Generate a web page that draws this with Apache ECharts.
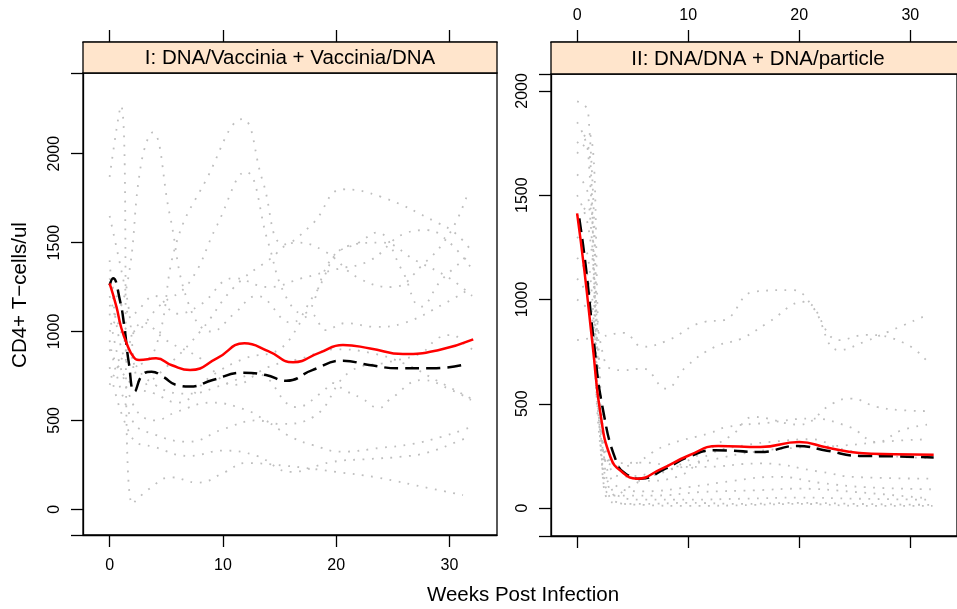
<!DOCTYPE html>
<html>
<head>
<meta charset="utf-8">
<script src="https://cdn.jsdelivr.net/npm/echarts@6/dist/echarts.min.js"></script>
<style>html,body{margin:0;padding:0;background:#fff}#c{width:957px;height:609px}</style>
</head>
<body>
<div id="c"></div>
<script>
// ---- Panel titles and tick labels ----
const panelTitles = ['I: DNA/Vaccinia + Vaccinia/DNA', 'II: DNA/DNA + DNA/particle'];
const xTicks = [0, 10, 20, 30];
const yTicks = [0, 500, 1000, 1500, 2000];
const xTitle = 'Weeks Post Infection';
const yTitle = 'CD4+ T\u2212cells/ul';

// ---- Panel I: individual subjects [week, CD4] ----
const I_s1  = [[0,1870],[1,2270],[2,30],[3.6,120],[5.4,180],[7.8,150],[10.2,210],[12,260],[15.5,245],[20,210],[23.5,180],[28.5,115],[31.2,80]];
const I_s2  = [[0,1000],[1.5,1250],[2.8,1950],[3.8,2120],[5.3,1660],[7,1150],[9,1000],[11,1100],[13,1200],[16,1050],[18,1200],[21,1480],[24,1500],[27,1400],[30,1300],[32,1200]];
const I_s3  = [[0,1400],[2,800],[4,900],[5.9,1500],[8.5,1850],[11.7,2195],[13.5,1850],[15.4,1490],[17.9,1605],[20.6,1800],[24,1757],[29,1610],[30.5,1554],[32,1450]];
const I_s4  = [[0,1150],[2,1000],[4.5,1150],[7,1273],[9.5,1600],[12,1898],[14,1500],[15.4,1217],[17,1100],[19.7,1420],[22,1500],[23.6,1557],[25.8,1346],[27.5,1140],[29.3,1290],[31.8,1430]];
const I_s5  = [[0,1650],[1.5,1200],[3,700],[5,800],[8,1000],[11,1250],[14,1400],[16.5,1500],[19,1450],[22,1300],[25,1250],[27.6,1373],[30,1550],[31.6,1773]];
const I_s6  = [[0,900],[2,700],[4,650],[6,600],[9,750],[12,850],[15,900],[17.9,1093],[19.1,1008],[20.8,1047],[23.5,1026],[26,1048],[29.5,1155],[31.8,1240]];
const I_s7  = [[0,1200],[2,850],[4,700],[7,650],[10,700],[13,760],[16.5,575],[18.8,660],[19.7,710],[20.7,671],[22.2,626],[23.8,570],[24.7,615],[27.6,727],[30.3,667],[31.9,615]];
const I_s8  = [[0,1100],[2,600],[4,500],[6,550],[9,600],[12,560],[15,480],[18,520],[21.2,773],[24.7,829],[27.5,879],[29,963],[30.3,980],[31.2,935],[32,900]];
const I_s9  = [[0,950],[2,500],[4,420],[7,380],[10,450],[13,500],[16.2,401],[17.9,362],[20.5,324],[24,346],[26.7,367],[29.3,408],[31,442],[31.9,463]];
const I_s10 = [[0,800],[2,400],[4,350],[7,300],[10,330],[13,300],[16,210],[19.6,266],[23,283],[25.8,296],[28,318],[30.9,386],[31.8,412]];
const I_s11 = [[0,700],[1.5,900],[3,1050],[5,950],[8,850],[11,700],[14,800],[17,850],[20,900],[23,880],[26,820],[29,720],[32,620]];
const I_s12 = [[0,1300],[2,1100],[4,1200],[6,1100],[8,1150],[11,1300],[14,1250],[17,1300],[20,1350],[23,1400],[26,1550],[28,1570],[30,1500],[32,1350]];
const I_subjects = [I_s1,I_s2,I_s3,I_s4,I_s5,I_s6,I_s7,I_s8,I_s9,I_s10,I_s11,I_s12];

// ---- Panel I: summary curves ----
const I_red   = [[0,1271],[0.6,1140],[1.0,1027],[1.5,934],[2.1,858],[2.6,840],[4.1,849],[5.5,810],[7.1,783],[9.5,850],[11.9,934],[14,890],[16.2,827],[18.5,880],[20.6,924],[23,905],[25.9,873],[29,895],[32.1,956]];
const I_black = [[0,1260],[0.3,1300],[0.9,1178],[1.3,1027],[1.7,822],[2.2,662],[2.9,756],[3.7,774],[4.7,746],[5.9,699],[7.1,690],[9.1,727],[11.8,768],[13.8,755],[15.6,723],[17.9,783],[20.6,836],[22.9,812],[25.6,793],[28.5,793],[31.2,812]];

// ---- Panel II: individual subjects ----
const II_s1  = [[0,1950],[1,1900],[2.2,300],[3,30],[6,20],[10,25],[15,20],[20,25],[25,20],[32,15]];
const II_s2  = [[0,1850],[1,1700],[2.2,250],[3.2,60],[7,60],[11.2,77],[16,85],[20,93],[25,77],[31.7,46]];
const II_s3  = [[0,1700],[0.8,1750],[2,400],[3,100],[6,40],[10,40],[15,45],[20,50],[25,45],[31.7,40]];
const II_s4  = [[0,1600],[1,1500],[2.2,350],[3,214],[5.9,218],[9,200],[11.2,197],[16.5,214],[22,173],[25,149],[31.7,141]];
const II_s5  = [[0,1400],[1,1450],[2.3,300],[3.5,60],[4.7,101],[6.5,149],[8.6,190],[13.9,349],[15.9,437],[20,400],[23,501],[24.6,525],[27,485],[29,470],[31.7,465]];
const II_s6  = [[0,1300],[1,1200],[2.4,250],[4,200],[8,300],[12,360],[13.5,389],[17,408],[21,429],[24.5,389],[27,317],[29.2,373],[31.5,400]];
const II_s7  = [[0,805],[2,820],[4.2,840],[5.9,773],[8,800],[11.5,893],[13.2,901],[15.9,1037],[19.4,1045],[21.2,965],[23.6,757],[26,800],[28,845],[31.5,925]];
const II_s8  = [[0,1500],[1,1350],[2.5,700],[4.2,661],[5.9,669],[8,573],[9.8,677],[12.4,773],[14.8,813],[17.1,886],[20.4,989],[23.6,805],[26,830],[29.5,790],[31.7,693]];
const II_s9  = [[0,1200],[1,1100],[2.3,200],[3.5,30],[6,15],[10,10],[16,15],[20,20],[26,10],[32,10]];
const II_s10 = [[0,1750],[1,1800],[2.3,400],[3.3,120],[6,80],[10,100],[14,130],[18,150],[22,120],[26,100],[32,90]];
const II_s11 = [[0,1100],[1,1000],[2.3,300],[3.5,200],[6,130],[9,150],[12,260],[15,300],[18,320],[21,330],[24,280],[28,250],[31.7,240]];
const II_s12 = [[0,1000],[1.5,900],[2.5,300],[4,150],[8,180],[12,230],[16,270],[20,290],[24,300],[28,320],[31.7,330]];
const II_subjects = [II_s1,II_s2,II_s3,II_s4,II_s5,II_s6,II_s7,II_s8,II_s9,II_s10,II_s11,II_s12];

// ---- Panel II: summary curves ----
const II_red   = [[0,1413],[0.65,1141],[1.4,780],[2.1,453],[3.0,245],[4,175],[5.4,141],[7.5,185],[10.1,253],[12.7,298],[16.5,293],[20,317],[22.5,290],[25.4,264],[28.5,258],[32.1,256]];
const II_black = [[0.2,1389],[0.8,1150],[1.5,800],[2.3,480],[3.6,213],[4.5,160],[5.7,141],[8,190],[10,245],[12.4,277],[16.5,269],[19.8,298],[22.5,275],[25.4,250],[28.5,248],[32.1,242]];

// ---- layout ----
const FONT = '"Liberation Sans", Arial, Helvetica, sans-serif';
const P = [
  {left: 83,  top: 73, width: 414, height: 462, stripTop: 42, ymin: -144.6, ymax: 2454},
  {left: 551, top: 74, width: 414, height: 462, stripTop: 42, ymin: -134,   ymax: 2081}
];
const XMIN = -2.35, XMAX = 34.2;
const TICK_FS = 16;
const TITLE_FS = 20.5;

const chart = echarts.init(document.getElementById('c'), null, {renderer: 'canvas'});

function plain(v) { return String(v); }
function axisLineStyle(show) { return {show: show, onZero: false, lineStyle: {color: '#000', width: 1.3}}; }
function xAxis(gi, pos, showLabels, offset) {
  return {
    type: 'value', gridIndex: gi, position: pos, offset: offset || 0,
    min: XMIN, max: XMAX,
    axisLine: axisLineStyle(true),
    splitLine: {show: false},
    axisTick: {show: true, inside: false, length: 12, customValues: xTicks, lineStyle: {color: '#000', width: 1.3}},
    axisLabel: {show: showLabels, customValues: xTicks, formatter: plain, margin: pos === 'top' ? 18 : 23,
      color: '#000', fontSize: TICK_FS, fontFamily: FONT}
  };
}
// y axis carrying the ticks (library ticks every 500) and the data
function yAxisTicks(gi) {
  return {
    type: 'value', gridIndex: gi, position: 'left',
    min: P[gi].ymin, max: P[gi].ymax, splitNumber: 5,
    axisLine: axisLineStyle(true),
    splitLine: {show: false},
    axisTick: {show: true, length: 12, lineStyle: {color: '#000', width: 1.3}},
    axisLabel: {color: 'rgba(0,0,0,0)'}
  };
}
// twin y axis carrying the rotated tick labels
function yAxisLabels(gi) {
  return {
    type: 'value', gridIndex: gi, position: 'left',
    min: P[gi].ymin, max: P[gi].ymax,
    axisLine: axisLineStyle(false),
    splitLine: {show: false},
    axisTick: {show: false},
    axisLabel: {customValues: yTicks, formatter: plain, rotate: 90, margin: 20,
      color: '#000', fontSize: TICK_FS, fontFamily: FONT}
  };
}

const greyStyle = {color: '#bebebe', width: 1.8, type: [1.8, 7.5]};
const series = [];
function addPanel(subjects, red, black, gi) {
  const xi = gi * 2, yi = gi * 2;
  subjects.forEach(function (d) {
    series.push({type: 'line', xAxisIndex: xi, yAxisIndex: yi, data: d, smooth: 0.45,
      showSymbol: false, silent: true, lineStyle: greyStyle, z: 2});
  });
  series.push({type: 'line', xAxisIndex: xi, yAxisIndex: yi, data: black, smooth: 0.5,
    showSymbol: false, silent: true, lineStyle: {color: '#000', width: 2.5, type: [14, 7]}, z: 3});
  series.push({type: 'line', xAxisIndex: xi, yAxisIndex: yi, data: red, smooth: 0.5,
    showSymbol: false, silent: true, lineStyle: {color: '#ff0000', width: 2.5}, z: 4});
}
addPanel(I_subjects, I_red, I_black, 0);
addPanel(II_subjects, II_red, II_black, 1);

const graphics = [];
P.forEach(function (p, i) {
  graphics.push({type: 'rect', z: 1, silent: true,
    shape: {x: p.left, y: p.stripTop, width: p.width, height: p.top - p.stripTop},
    style: {fill: '#ffe5cc', stroke: '#000', lineWidth: 1.3}});
  graphics.push({type: 'text', z: 2, silent: true,
    style: {text: panelTitles[i], x: p.left + p.width / 2, y: (p.stripTop + p.top) / 2 + 1,
      align: 'center', verticalAlign: 'middle', fill: '#000', font: TITLE_FS + 'px ' + FONT}});
});
graphics.push({type: 'text', silent: true, rotation: Math.PI / 2, x: 20, y: 295,
  style: {text: yTitle, x: 0, y: 0, align: 'center', verticalAlign: 'middle', fill: '#000', font: TITLE_FS + 'px ' + FONT}});
graphics.push({type: 'text', silent: true,
  style: {text: xTitle, x: 523, y: 595, align: 'center', verticalAlign: 'middle', fill: '#000', font: TITLE_FS + 'px ' + FONT}});

chart.setOption({
  animation: false,
  backgroundColor: '#fff',
  grid: P.map(function (p) {
    return {left: p.left, top: p.top, width: p.width, height: p.height, show: true,
      borderColor: '#000', borderWidth: 1.3, backgroundColor: 'transparent', containLabel: false};
  }),
  xAxis: [xAxis(0, 'bottom', true), xAxis(0, 'top', false, 31), xAxis(1, 'bottom', false), xAxis(1, 'top', true, 32)],
  yAxis: [yAxisTicks(0), yAxisLabels(0), yAxisTicks(1), yAxisLabels(1)],
  series: series,
  graphic: graphics
});
</script>
</body>
</html>
